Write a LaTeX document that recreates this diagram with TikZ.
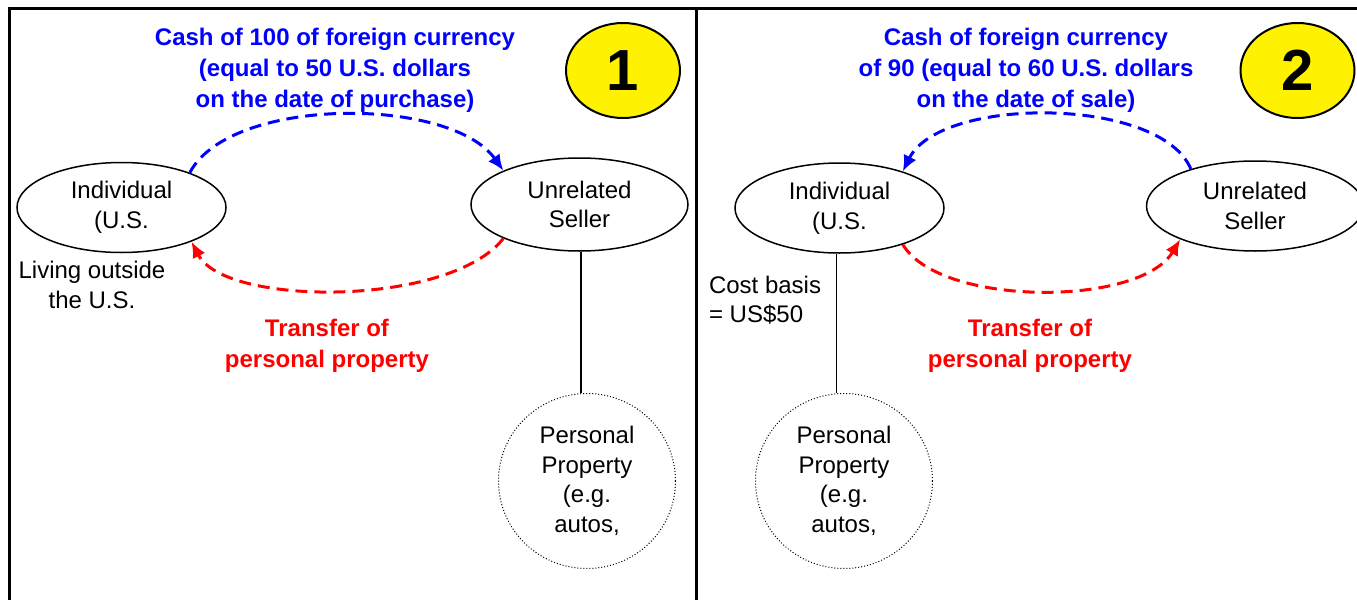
\documentclass[tikz,border=0pt]{standalone}
\usepackage{fontspec}
\setmainfont{Liberation Sans}
\usetikzlibrary{shapes.geometric,arrows.meta}

\begin{document}
\begin{tikzpicture}[x=0.5pt,y=-0.5pt,
  every node/.style={font=\fontsize{12}{14.8}\selectfont,align=center},
  party/.style={draw,ellipse,line width=0.75pt,inner sep=0pt,minimum width=104.5pt,minimum height=45pt},
  asset/.style={draw,ellipse,densely dotted,line width=0.5pt,inner sep=0pt,minimum width=88.5pt,minimum height=87.5pt},
  badge/.style={draw,ellipse,fill=yellow,line width=1pt,minimum width=57pt,minimum height=47.5pt,font=\fontsize{29}{29}\selectfont\bfseries},
  cashnote/.style={text=blue,font=\fontsize{12}{15.5}\selectfont\bfseries},
  goodsnote/.style={text=red,font=\fontsize{12}{15.5}\selectfont\bfseries},
  cashflow/.style={draw=blue,line width=1.5pt,dash pattern=on 6pt off 3.5pt,-{Latex[length=8pt,width=7pt]}},
  goodsflow/.style={draw=red,line width=1.5pt,dash pattern=on 6pt off 3.5pt,-{Latex[length=8pt,width=7pt]}}]

\useasboundingbox (0,0) rectangle (1357,600);

% frame
\draw[line width=1.5pt] (9,600) -- (9,8) -- (1357,8);
\draw[line width=1.5pt] (696,8) -- (696,600);

% panel 1
\node[cashnote] (cash1) at (335,70) {Cash of 100 of foreign currency\\(equal to 50 U.S. dollars\\on the date of purchase)};
\node[badge] (num1) at (623,70.5) {1};
\node[party] (ind1) at (121.5,207.5) {Individual\\(U.S.};
\node[party,minimum width=108.5pt,minimum height=46.5pt] (sel1) at (579.5,204.5) {Unrelated\\Seller};
\node (living) at (92,285) {Living outside\\the U.S.};
\node[goodsnote] (xfer1) at (327,346) {Transfer of\\personal property};
\node[asset] (prop1) at (587,481) {Personal\\Property\\(e.g.\\autos,};

\draw[cashflow] (ind1.27) .. controls (230,96) and (450,96) .. (sel1.156);
\draw[goodsflow] (sel1.204) .. controls (450,307) and (225,307) .. (ind1.334);
\draw[line width=0.75pt] (sel1.272) -- (sel1.272 |- prop1.north);

% panel 2
\node[cashnote] (cash2) at (1026,70) {Cash of foreign currency\\of 90 (equal to 60 U.S. dollars\\on the date of sale)};
\node[badge] (num2) at (1297.5,70.5) {2};
\node[party] (ind2) at (839.5,208) {Individual\\(U.S.};
\node[party,minimum width=108.5pt,minimum height=45pt] (sel2) at (1255,206) {Unrelated\\Seller};
\node[anchor=west,align=left] (cost) at (702,300) {Cost basis\\= US\$50};
\node[goodsnote] (xfer2) at (1030,346) {Transfer of\\personal property};
\node[asset] (prop2) at (844,481) {Personal\\Property\\(e.g.\\autos,};

\draw[cashflow] (sel2.150) .. controls (1160,96) and (940,96) .. (ind2.30);
\draw[goodsflow] (ind2.330) .. controls (940,307) and (1140,307) .. (sel2.204);
\draw[line width=0.75pt] (ind2.266) -- (ind2.266 |- prop2.north);

\end{tikzpicture}
\end{document}
